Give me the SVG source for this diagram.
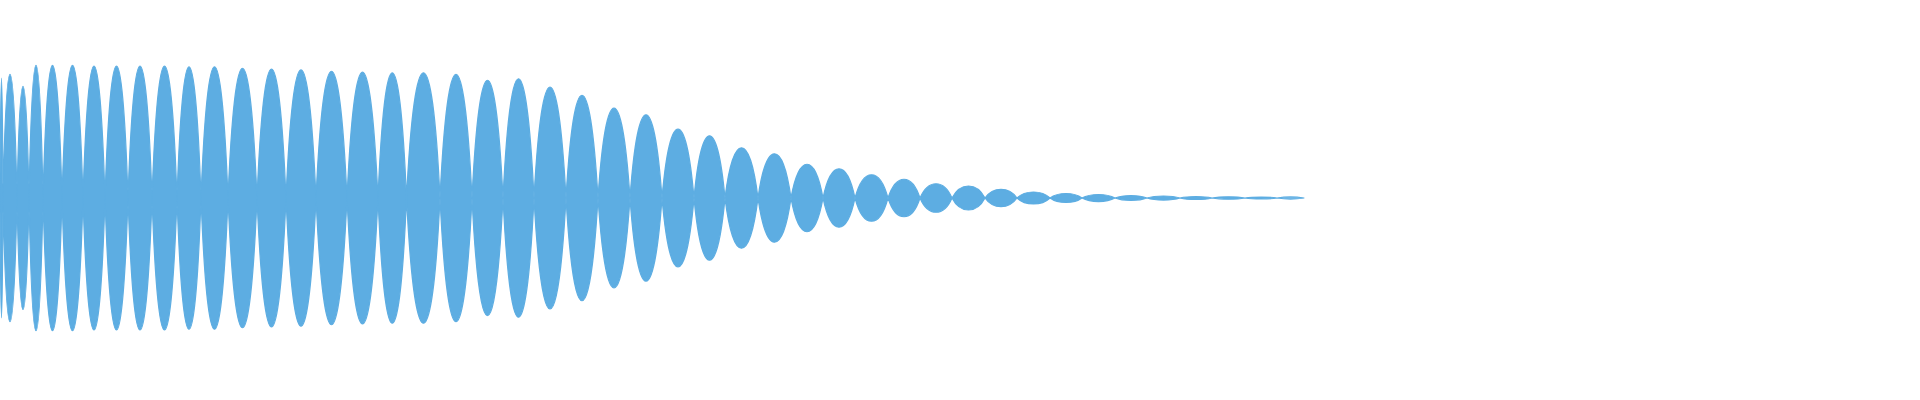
<svg xmlns="http://www.w3.org/2000/svg" width="1920" height="400" viewBox="0 0 1920 400">
<style>.w{fill:#5DADE2;stroke:#5DADE2;stroke-width:1.2;stroke-linejoin:round}</style>
<rect width="1920" height="400" fill="#fff"/>
<g id="waveform">
<rect class="w" x="0" y="184" width="110" height="28"/>
<rect class="w" x="110" y="190" width="290" height="16"/>
<path class="w" d="
M0 198 C0.75 38 2.25 38 3 198 C2.25 358 0.75 358 0 198Z
M3 198 C6.5 33 13.5 33 17 198 C13.5 363 6.5 363 3 198Z
M17 198 C20 49 26 49 29 198 C26 347 20 347 17 198Z
M29 198 C32.5 21 39.5 21 43 198 C39.5 375 32.5 375 29 198Z
M43 198 C47.75 21 57.25 21 62 198 C57.25 375 47.75 375 43 198Z
M62 198 C67.25 21 77.75 21 83 198 C77.75 375 67.25 375 62 198Z
M83 198 C88.5 22 99.5 22 105 198 C99.5 374 88.5 374 83 198Z
M105 198 C110.75 22 122.25 22 128 198 C122.25 374 110.75 374 105 198Z
M128 198 C134 22 146 22 152 198 C146 374 134 374 128 198Z
M152 198 C158.25 22 170.75 22 177 198 C170.75 374 158.25 374 152 198Z
M177 198 C183 23 195 23 201 198 C195 373 183 373 177 198Z
M201 198 C207.75 23 221.25 23 228 198 C221.25 373 207.75 373 201 198Z
M228 198 C235.25 25 249.75 25 257 198 C249.75 371 235.25 371 228 198Z
M257 198 C264.25 26 278.75 26 286 198 C278.75 370 264.25 370 257 198Z
M286 198 C293.5 27 308.5 27 316 198 C308.5 369 293.5 369 286 198Z
M316 198 C323.75 29 339.25 29 347 198 C339.25 367 323.75 367 316 198Z
M347 198 C354.75 30 370.25 30 378 198 C370.25 366 354.75 366 347 198Z
M378 198 C385 31 399.5 31 406.5 198 C399.5 365 385 365 378 198Z
M406.5 198 C414.9 31 432.1 31 440 198 C432.1 365 414.9 365 406.5 198Z
M440 198 C448 33 464 33 472 198 C464 363 448 363 440 198Z
M472 198 C479.75 41 495.25 41 503 198 C495.25 355 479.75 355 472 198Z
M503 198 C510.75 39 526.25 39 534 198 C526.25 357 510.75 357 503 198Z
M534 198 C542 50 558 50 566 198 C558 346 542 346 534 198Z
M566 198 C574 61 590 61 598 198 C590 335 574 335 566 198Z
M598 198 C606 78 622 78 630 198 C622 318 606 318 598 198Z
M630 198 C638 87 654 87 662 198 C654 309 638 309 630 198Z
M662 198 C670 106 686 106 694 198 C686 290 670 290 662 198Z
M694 198 C701.75 115 717.25 115 725 198 C717.25 281 701.75 281 694 198Z
M725 198 C733.25 131 749.75 131 758 198 C749.75 265 733.25 265 725 198Z
M758 198 C766.25 139 782.75 139 791 198 C782.75 257 766.25 257 758 198Z
M791 198 C799 153 815 153 823 198 C815 243 799 243 791 198Z
M823 198 C831 159 847 159 855 198 C847 237 831 237 823 198Z
M855 198 C863.25 167 879.75 167 888 198 C879.75 229 863.25 229 855 198Z
M888 198 C896 173 912 173 920 198 C912 223 896 223 888 198Z
M920 198 C928 179 944 179 952 198 C944 217 928 217 920 198Z
M952 198 C960.25 182 976.75 182 985 198 C976.75 214 960.25 214 952 198Z
M985 198 C993 186.4 1009 186.4 1017 198 C1009 209.6 993 209.6 985 198Z
M1017 198 C1025.25 190 1041.75 190 1050 198 C1041.75 206 1025.25 206 1017 198Z
M1050 198 C1058 192 1074 192 1082 198 C1074 204 1058 204 1050 198Z
M1082 198 C1090.25 193.3 1106.75 193.3 1115 198 C1106.75 202.7 1090.25 202.7 1082 198Z
M1115 198 C1123 194.7 1139 194.7 1147 198 C1139 201.3 1123 201.3 1115 198Z
M1147 198 C1155.25 195.3 1171.75 195.3 1180 198 C1171.75 200.7 1155.25 200.7 1147 198Z
M1180 198 C1188 196 1204 196 1212 198 C1204 200 1188 200 1180 198Z
M1212 198 C1220.25 196.4 1236.75 196.4 1245 198 C1236.75 199.6 1220.25 199.6 1212 198Z
M1245 198 C1253 196.7 1269 196.7 1277 198 C1269 199.3 1253 199.3 1245 198Z
M1277 198 C1284 196.9 1297 196.9 1304 198 C1297 199.1 1284 199.1 1277 198Z"/>
</g>
</svg>
